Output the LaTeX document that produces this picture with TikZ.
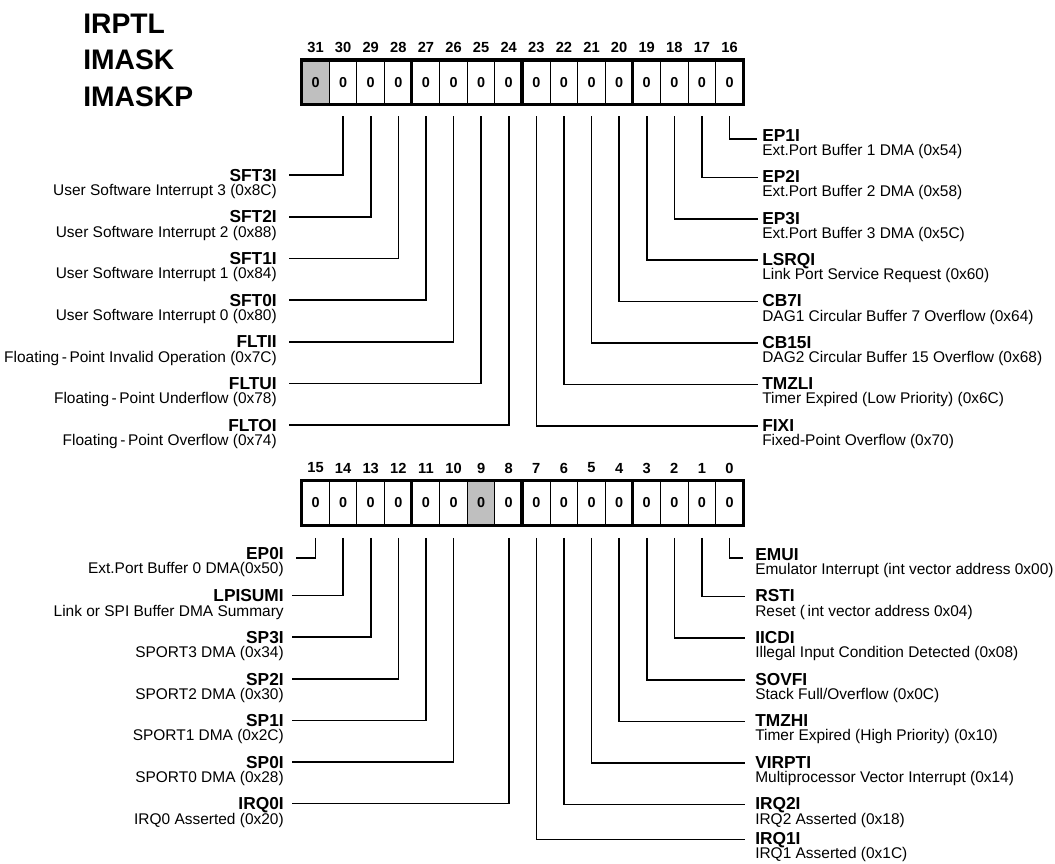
\documentclass[tikz,border=0pt]{standalone}
\usepackage{fontspec}
\setmainfont{Liberation Sans}
\usetikzlibrary{calc}
\begin{document}
\begin{tikzpicture}[x=0.75pt,y=-0.75pt,
  cell/.style={draw,line width=0.75pt,minimum width=20.7pt,minimum height=32.6pt,inner sep=0,
    font=\bfseries\fontsize{10.8}{12}\selectfont},
  bitnum/.style={inner sep=0,font=\bfseries\fontsize{11}{13}\selectfont},
  regborder/.style={line width=2.3pt},
  graycell/.style={fill=black!25},
  nm/.style={inner sep=0,text height=9.3pt,text depth=0pt,font=\bfseries\fontsize{13}{15}\selectfont},
  ds/.style={inner sep=0,text height=8.3pt,text depth=0pt,font=\fontsize{11.6}{14}\selectfont},
  conn/.style={line width=1.2pt},
  title/.style={anchor=west,inner sep=0,text height=15.3pt,text depth=0pt,font=\bfseries\fontsize{21.2}{25}\selectfont}]
\useasboundingbox (0,0) rectangle (1055,863);

% titles
\node[title] (t1) at (83,23) {IRPTL};
\node[title] (t2) at (83,59) {IMASK};
\node[title] (t3) at (83,96) {IMASKP};

% gray cells
\fill[graycell] (301.7,60.5) rectangle ++(27.6,43.5);
\fill[graycell] ({301.7+27.6*6},480.7) rectangle ++(27.6,44.5);

% top register
\foreach \i in {0,...,15}{
  \pgfmathtruncatemacro{\b}{31-\i}
  \pgfmathsetmacro{\x}{301.7+27.6*(\i+0.5)}
  \node[cell] (b\b) at (\x,82.25) {0};
  \node[bitnum] (n\b) at (\x,47) {\b};
}
% bottom register
\foreach \i in {0,...,15}{
  \pgfmathtruncatemacro{\b}{15-\i}
  \pgfmathsetmacro{\x}{301.7+27.6*(\i+0.5)}
  \node[cell,minimum height=33.4pt] (b\b) at (\x,503) {0};
  \node[bitnum] (n\b) at (\x,468) {\b};
}
% thick borders
\draw[regborder] (b31.north west) rectangle (b16.south east);
\foreach \k in {27,23,19}{\draw[regborder] (b\k.north west) -- (b\k.south west);}
\draw[regborder] (b15.north west) rectangle (b0.south east);
\foreach \k in {11,7,3}{\draw[regborder] (b\k.north west) -- (b\k.south west);}

% top left labels
\foreach \b/\nmt/\dst/\y in {
  30/SFT3I/{User Software Interrupt 3 (0x8C)}/175,
  29/SFT2I/{User Software Interrupt 2 (0x88)}/216.7,
  28/SFT1I/{User Software Interrupt 1 (0x84)}/258.3,
  27/SFT0I/{User Software Interrupt 0 (0x80)}/300,
  26/FLTII/{Floating\,-\,Point Invalid Operation (0x7C)}/341.7,
  25/FLTUI/{Floating\,-\,Point Underflow (0x78)}/383.3,
  24/FLTOI/{Floating\,-\,Point Overflow (0x74)}/425}{
  \node[nm,anchor=east] (L\b) at (277,\y) {\nmt};
  \node[ds,anchor=east] (D\b) at (277,\y+15) {\dst};
  \draw[conn] ($(b\b.south)+(0,12)$) |- ($(L\b.east)+(11.6,0)$);
}
% top right labels
\node[nm,anchor=west] (L16) at (762,135) {EP1I};
\node[ds,anchor=west] (D16) at (762,150) {Ext.Port Buffer 1 DMA (0x54)};
\draw[conn] ($(b16.south)+(0,12)$) |- ($(L16.west)+(-5,4)$);
\foreach \b/\nmt/\dst/\y in {
  17/EP2I/{Ext.Port Buffer 2 DMA (0x58)}/176.4,
  18/EP3I/{Ext.Port Buffer 3 DMA (0x5C)}/217.8,
  19/LSRQI/{Link Port Service Request (0x60)}/259.2,
  20/CB7I/{DAG1 Circular Buffer 7 Overflow (0x64)}/300.6,
  21/CB15I/{DAG2 Circular Buffer 15 Overflow (0x68)}/342,
  22/TMZLI/{Timer Expired (Low Priority) (0x6C)}/383.4,
  23/FIXI/{Fixed-Point Overflow (0x70)}/424.8}{
  \node[nm,anchor=west] (L\b) at (762,\y) {\nmt};
  \node[ds,anchor=west] (D\b) at (762,\y+15) {\dst};
  \draw[conn] ($(b\b.south)+(0,12)$) |- ($(L\b.west)+(-4,1)$);
}
% bottom left labels
\node[nm,anchor=east] (L15) at (284,553) {EP0I};
\node[ds,anchor=east] (D15) at (284,568) {Ext.Port Buffer 0 DMA(0x50)};
\draw[conn] ($(b15.south)+(0,12)$) |- ($(L15.east)+(12,5)$);
\foreach \b/\nmt/\dst/\y in {
  14/LPISUMI/{Link or SPI Buffer DMA Summary}/595.6,
  13/SP3I/{SPORT3 DMA (0x34)}/637.2,
  12/SP2I/{SPORT2 DMA (0x30)}/678.8,
  11/SP1I/{SPORT1 DMA (0x2C)}/720.4,
  10/SP0I/{SPORT0 DMA (0x28)}/762,
  8/IRQ0I/{IRQ0 Asserted (0x20)}/803.6}{
  \node[nm,anchor=east] (L\b) at (284,\y) {\nmt};
  \node[ds,anchor=east] (D\b) at (284,\y+15) {\dst};
  \draw[conn] ($(b\b.south)+(0,12)$) |- ($(L\b.east)+(8,0)$);
}
% bottom right labels
\node[nm,anchor=west] (L0) at (755,554) {EMUI};
\node[ds,anchor=west] (D0) at (755,569) {Emulator Interrupt (int vector address 0x00)};
\draw[conn] ($(b0.south)+(0,12)$) |- ($(L0.west)+(-12,4)$);
\foreach \b/\nmt/\dst/\y/\dd in {
  1/RSTI/{Reset (\,int vector address 0x04)}/595.6/15,
  2/IICDI/{Illegal Input Condition Detected (0x08)}/637.2/15,
  3/SOVFI/{Stack Full/Overflow (0x0C)}/678.8/15,
  4/TMZHI/{Timer Expired (High Priority) (0x10)}/720.4/15,
  5/VIRPTI/{Multiprocessor Vector Interrupt (0x14)}/762/15,
  6/IRQ2I/{IRQ2 Asserted (0x18)}/803.6/15,
  7/IRQ1I/{IRQ1 Asserted (0x1C)}/838.5/14.5}{
  \node[nm,anchor=west] (L\b) at (755,\y) {\nmt};
  \node[ds,anchor=west] (D\b) at (755,\y+\dd) {\dst};
  \draw[conn] ($(b\b.south)+(0,12)$) |- ($(L\b.west)+(-10,1)$);
}
\end{tikzpicture}
\end{document}
